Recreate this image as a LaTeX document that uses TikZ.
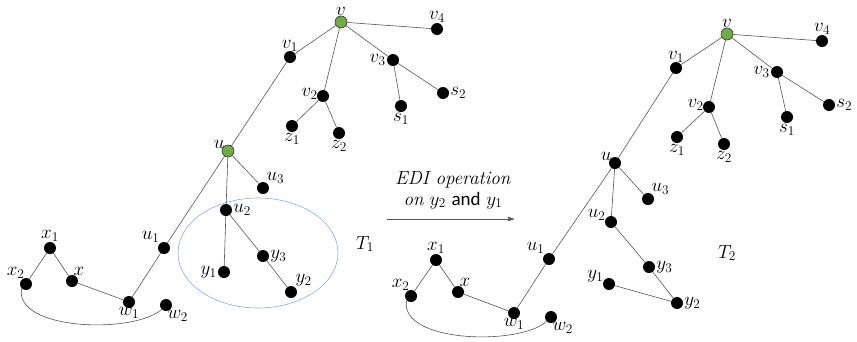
\RequirePackage{fix-cm}
\documentclass[tikz,border=0pt]{standalone}
\usepackage{fontspec}
\newfontfamily\calib{Carlito}
\usetikzlibrary{arrows.meta}
\definecolor{rootgreen}{RGB}{112,173,71}
\definecolor{ringblue}{RGB}{143,170,220}
\definecolor{edgegray}{RGB}{85,85,85}
\newcommand\lblfont{\fontsize{19}{21}\selectfont}
\tikzset{
  dot/.style={circle,fill=black,inner sep=0pt,minimum size=12pt},
  rootdot/.style={circle,fill=rootgreen,draw=black!80,line width=0.6pt,inner sep=0pt,minimum size=12pt},
  lbl/.style={font=\lblfont,inner sep=1pt},
  edge/.style={draw=edgegray,line width=0.6pt},
  every label/.style={lbl},
  label distance=0pt
}
\begin{document}
\begin{tikzpicture}[x=1pt,y=-1pt]
\useasboundingbox (0,0) rectangle (857,341);

% ---------------- tree T1 ----------------
\node[rootdot,label={[yshift=-1pt]above:$v$}] (Av) at (341,22) {};
\node[dot,label={[yshift=-1pt]above:$v_4$}] (Av4) at (437,29) {};
\node[dot,label={[yshift=-2pt]above:$v_1$}] (Av1) at (290,57) {};
\node[dot,label={left:$v_3$}] (Av3) at (393,60) {};
\node[dot,label={[xshift=2pt,yshift=2pt]left:$v_2$}] (Av2) at (323,96) {};
\node[dot,label={right:$s_2$}] (As2) at (443,93) {};
\node[dot,label={below:$s_1$}] (As1) at (401,106) {};
\node[dot,label={below:$z_1$}] (Az1) at (292,126) {};
\node[dot,label={below:$z_2$}] (Az2) at (339,133) {};
\node[rootdot,label={[yshift=-3pt,xshift=2pt]above left:$u$}] (Au) at (228,151) {};
\node[dot,label={[xshift=-2pt,yshift=-1pt]above right:$u_3$}] (Au3) at (263,188) {};
\node[dot,label={right:$u_2$}] (Au2) at (226,210) {};
\node[dot,label={[xshift=1pt]above left:$u_1$}] (Au1) at (164,248) {};
\node[dot,label={right:$y_3$}] (Ay3) at (263,256) {};
\node[dot,label={left:$y_1$}] (Ay1) at (224,272) {};
\node[dot,label={[xshift=-1pt]above right:$y_2$}] (Ay2) at (291,292) {};
\node[dot,label={[yshift=-1pt]above:$x_1$}] (Ax1) at (50,248) {};
\node[dot,label={[xshift=4pt]above left:$x_2$}] (Ax2) at (26,284) {};
\node[dot,label={[xshift=-4pt]above right:$x$}] (Ax) at (72,281) {};
\node[dot,label={[yshift=2pt]below:$w_1$}] (Aw1) at (129,302) {};
\node[dot,label={[xshift=-4pt]below right:$w_2$}] (Aw2) at (166,305) {};

\draw[ringblue,line width=0.6pt] (258,253) ellipse [x radius=80pt,y radius=55pt];
\node[lbl] (AT) at (365,244) {$T_1$};

\path[edge] (Av) -- (Av1) (Av) -- (Av2) (Av) -- (Av3) (Av) -- (Av4)
  (Av1) -- (Au) (Av2) -- (Az1) (Av2) -- (Az2) (Av3) -- (As1) (Av3) -- (As2)
  (Au) -- (Au1) (Au) -- (Au2) (Au) -- (Au3)
  (Au2) -- (Ay1) (Au2) -- (Ay3) (Ay3) -- (Ay2)
  (Au1) -- (Aw1) (Aw1) -- (Ax) (Ax) -- (Ax1) (Ax1) -- (Ax2);
\path[edge] (Ax2.south west) .. controls +(-8,42) and +(-28,25) .. (Aw2.south west);

% ---------------- operation arrow ----------------
\node[lbl,align=center] (op) at (453,190) {\textit{EDI operation}\\\textit{on} $y_2$ {\calib and} $y_1$};
\coordinate (arrS) at (387,219);
\coordinate (arrE) at (515,219);
\draw[edgegray,line width=0.6pt,-{Latex[length=7pt,width=5pt]}] (arrS) -- (arrE);

% ---------------- tree T2 ----------------
\node[rootdot,label={[yshift=-1pt]above:$v$}] (Bv) at (727,34) {};
\node[dot,label={[yshift=-1pt]above:$v_4$}] (Bv4) at (822,41) {};
\node[dot,label={[yshift=-2pt]above:$v_1$}] (Bv1) at (676,68) {};
\node[dot,label={left:$v_3$}] (Bv3) at (777,72) {};
\node[dot,label={[xshift=2pt,yshift=2pt]left:$v_2$}] (Bv2) at (709,107) {};
\node[dot,label={right:$s_2$}] (Bs2) at (829,105) {};
\node[dot,label={below:$s_1$}] (Bs1) at (787,117) {};
\node[dot,label={below:$z_1$}] (Bz1) at (677,137) {};
\node[dot,label={below:$z_2$}] (Bz2) at (724,144) {};
\node[dot,label={[yshift=-3pt,xshift=2pt]above left:$u$}] (Bu) at (615,163) {};
\node[dot,label={[xshift=-2pt,yshift=-1pt]above right:$u_3$}] (Bu3) at (648,199) {};
\node[dot,label={[yshift=-4pt]above left:$u_2$}] (Bu2) at (611,222) {};
\node[dot,label={[xshift=1pt]above left:$u_1$}] (Bu1) at (549,259) {};
\node[dot,label={right:$y_3$}] (By3) at (649,267) {};
\node[dot,label={[yshift=-4pt]above left:$y_1$}] (By1) at (609,284) {};
\node[dot,label={right:$y_2$}] (By2) at (677,303) {};
\node[dot,label={[yshift=-1pt]above:$x_1$}] (Bx1) at (436,260) {};
\node[dot,label={[xshift=4pt]above left:$x_2$}] (Bx2) at (411,296) {};
\node[dot,label={[xshift=-4pt]above right:$x$}] (Bx) at (458,292) {};
\node[dot,label={[yshift=2pt]below:$w_1$}] (Bw1) at (514,313) {};
\node[dot,label={[xshift=-4pt]below right:$w_2$}] (Bw2) at (551,317) {};

\node[lbl] (BT) at (727,253) {$T_2$};

\path[edge] (Bv) -- (Bv1) (Bv) -- (Bv2) (Bv) -- (Bv3) (Bv) -- (Bv4)
  (Bv1) -- (Bu) (Bv2) -- (Bz1) (Bv2) -- (Bz2) (Bv3) -- (Bs1) (Bv3) -- (Bs2)
  (Bu) -- (Bu1) (Bu) -- (Bu2) (Bu) -- (Bu3)
  (Bu2) -- (By3) (By3) -- (By2) (By2) -- (By1)
  (Bu1) -- (Bw1) (Bw1) -- (Bx) (Bx) -- (Bx1) (Bx1) -- (Bx2);
\path[edge] (Bx2.south west) .. controls +(-8,42) and +(-28,25) .. (Bw2.south west);
\end{tikzpicture}
\end{document}
